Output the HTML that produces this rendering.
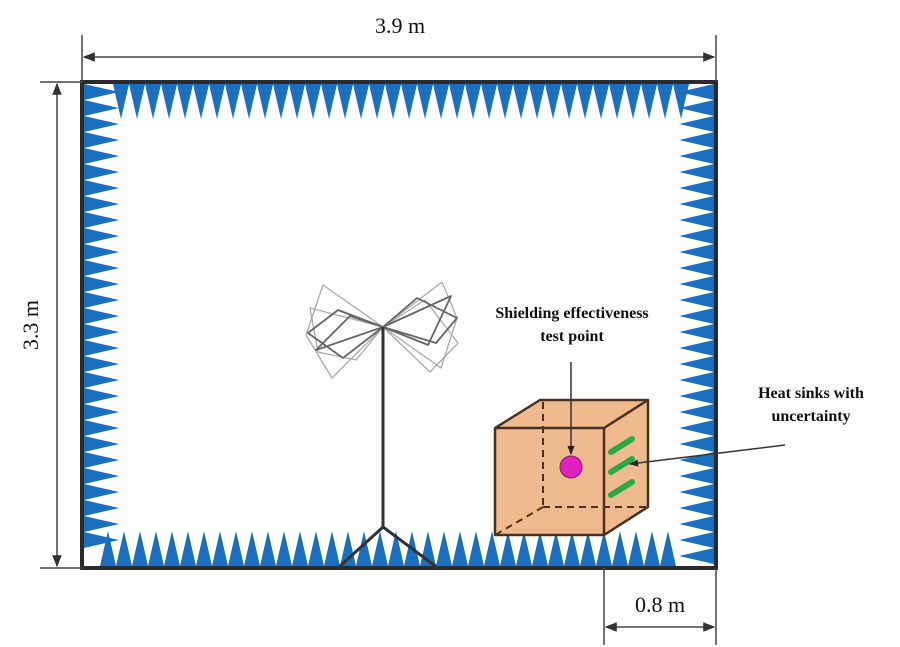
<!DOCTYPE html>
<html><head><meta charset="utf-8"><style>
html,body{margin:0;padding:0;background:#fff;}
svg{display:block;}
text{font-family:"Liberation Serif",serif;fill:#111;}
</style></head><body>
<svg id="s" width="900" height="647" viewBox="0 0 900 647" xmlns="http://www.w3.org/2000/svg">
<defs>
<marker id="ah" viewBox="0 0 10 10" refX="9" refY="5" markerWidth="8" markerHeight="8" orient="auto-start-reverse"><path d="M0,1 L10,5 L0,9 Z" fill="#333"/></marker>
<marker id="ah2" viewBox="0 0 10 10" refX="9" refY="5" markerWidth="6" markerHeight="6" orient="auto"><path d="M0,1 L10,5 L0,9 Z" fill="#222"/></marker>
</defs>
<g id="wedges" fill="#1a6fbf"></g>
<rect x="82" y="82" width="634" height="486" fill="none" stroke="#2b2b2b" stroke-width="4"/>
<g stroke="#444" stroke-width="1.5" fill="none">
<line x1="82" y1="35" x2="82" y2="82"/>
<line x1="716" y1="35" x2="716" y2="82"/>
<line x1="84" y1="57" x2="714" y2="57" marker-start="url(#ah)" marker-end="url(#ah)"/>
<line x1="40" y1="82" x2="82" y2="82"/>
<line x1="40" y1="568" x2="82" y2="568"/>
<line x1="57" y1="84" x2="57" y2="566" marker-start="url(#ah)" marker-end="url(#ah)"/>
<line x1="604" y1="568" x2="604" y2="645"/>
<line x1="716" y1="568" x2="716" y2="645"/>
<line x1="606" y1="627" x2="714" y2="627" marker-start="url(#ah)" marker-end="url(#ah)"/>
</g>
<text x="400" y="33" font-size="22" text-anchor="middle">3.9 m</text>
<text x="0" y="0" font-size="22" text-anchor="middle" transform="translate(38,325) rotate(-90)">3.3 m</text>
<text x="660" y="612" font-size="22" text-anchor="middle">0.8 m</text>
<g fill="none" stroke-linejoin="round">
<g stroke="#aaa" stroke-width="1.3">
<polygon points="383,327 323,285 306,335 332,378"/>
<polygon points="383,327 442,282 457,318 441,368"/>
<polygon points="383,327 310,308 318,352 356,360"/>
<polygon points="383,327 425,300 458,343 430,372"/>
</g>
<g stroke="#666" stroke-width="1.8">
<polygon points="383,327 338,310 308,333 343,358"/>
<polygon points="383,327 417,298 457,318 436,343"/>
<polygon points="383,327 350,316 316,350"/>
<polygon points="383,327 451,296 428,345"/>
</g>
<line x1="383" y1="327" x2="383" y2="527" stroke="#333" stroke-width="3"/>
<polyline points="338,568 383,527 438,568" stroke="#333" stroke-width="3"/>
</g>
<g stroke="#4a3020" stroke-width="2.5" stroke-linejoin="round">
<polygon points="495,428 540,400 648,400 648,507 604,535 495,535" fill="#efba8e"/>
<line x1="495" y1="428" x2="604" y2="428"/>
<line x1="604" y1="428" x2="648" y2="400"/>
<line x1="604" y1="428" x2="604" y2="535"/>
<g stroke-dasharray="7,5" stroke-width="2">
<line x1="543" y1="402" x2="543" y2="507"/>
<line x1="543" y1="507" x2="648" y2="507"/>
<line x1="543" y1="507" x2="495" y2="535"/>
</g>
</g>
<g stroke="#2aa845" stroke-width="6" stroke-linecap="round">
<line x1="611" y1="452" x2="632" y2="439"/>
<line x1="611" y1="472" x2="632" y2="459"/>
<line x1="611" y1="495" x2="632" y2="482"/>
</g>
<circle cx="571" cy="467" r="11" fill="#e020c0" stroke="#7a2060" stroke-width="1"/>
<line x1="571" y1="362" x2="571" y2="454" stroke="#333" stroke-width="1.5" marker-end="url(#ah2)"/>
<line x1="785" y1="445" x2="630" y2="464" stroke="#333" stroke-width="1.5" marker-end="url(#ah2)"/>
<text x="572" y="318" font-size="16" font-weight="bold" text-anchor="middle">Shielding effectiveness</text>
<text x="572" y="341" font-size="16" font-weight="bold" text-anchor="middle">test point</text>
<text x="811" y="398" font-size="16" font-weight="bold" text-anchor="middle">Heat sinks with</text>
<text x="811" y="421" font-size="16" font-weight="bold" text-anchor="middle">uncertainty</text>
</svg>
<script>
var g=document.getElementById('wedges'),p=[];
function add(s){p.push(s);}
var w=16,h=35;
for(var x=113;x+w<=690;x+=w){add((x)+',84 '+(x+w)+',84 '+(x+w/2)+','+(84+h));}
for(var x=100;x+w<=686;x+=w){add((x)+',566 '+(x+w)+',566 '+(x+w/2)+','+(566-h));}
for(var y=84;y+w<=550;y+=w){add('84,'+y+' 84,'+(y+w)+' '+(84+h)+','+(y+w/2));}
for(var y=84;y+w<=566;y+=w){add('714,'+y+' 714,'+(y+w)+' '+(714-h)+','+(y+w/2));}
var ns='http://www.w3.org/2000/svg';
p.forEach(function(pt){var e=document.createElementNS(ns,'polygon');e.setAttribute('points',pt);g.appendChild(e);});
</script>
</body></html>
